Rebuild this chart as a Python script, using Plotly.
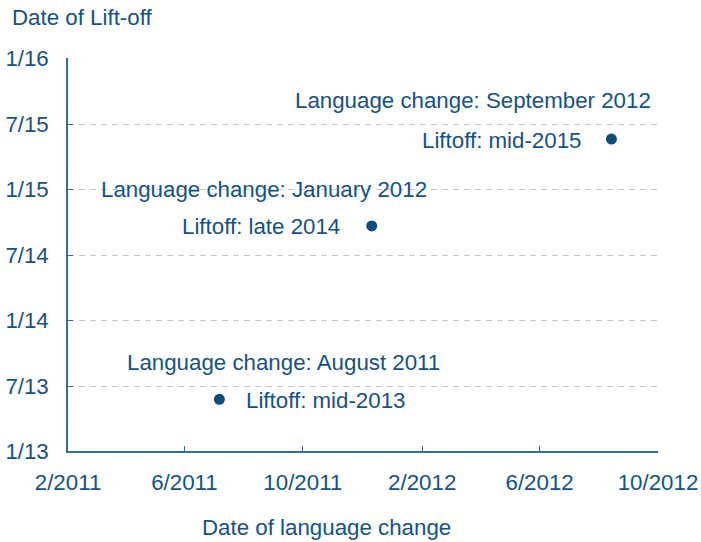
import plotly.graph_objects as go

# Data
lang_change_labels = ["August 2011", "January 2012", "September 2012"]
liftoff_labels = ["mid-2013", "late 2014", "mid-2015"]
lang_change_dates = ["2011-07-07", "2011-12-11", "2012-08-14"]
liftoff_dates = ["2013-05-25", "2014-09-20", "2015-05-20"]

x_tick_vals = ["2011-02-01", "2011-06-01", "2011-10-01", "2012-02-01", "2012-06-01", "2012-10-01"]
x_tick_text = ["2/2011", "6/2011", "10/2011", "2/2012", "6/2012", "10/2012"]
y_tick_vals = ["2013-01-01", "2013-07-01", "2014-01-01", "2014-07-01", "2015-01-01", "2015-07-01", "2016-01-01"]
y_tick_text = ["1/13", "7/13", "1/14", "7/14", "1/15", "7/15", "1/16"]

TEXT = "#17527e"
DOT = "#0d4d78"
AXIS = "#3a6b90"
GRID = "#c8c8be"
FONT = "Liberation Sans, Arial, sans-serif"
FS = 22.3

fig = go.Figure()
fig.add_trace(go.Scatter(
    x=lang_change_dates, y=liftoff_dates, mode="markers",
    marker=dict(size=11, color=DOT), showlegend=False, hoverinfo="skip"))

# label placements (offsets in px)
liftoff_anchor = ["left", "right", "right"]
liftoff_shift = [25, -30, -28]
lang_shift_x = [64, -108, -138]
lang_shift_y = [37, 36, 39]
for i in range(3):
    fig.add_annotation(x=lang_change_dates[i], y=liftoff_dates[i], xref="x", yref="y",
                       text="Liftoff: " + liftoff_labels[i], showarrow=False,
                       xanchor=liftoff_anchor[i], yanchor="middle",
                       xshift=liftoff_shift[i], yshift=-1,
                       font=dict(family=FONT, size=FS, color=TEXT))
    fig.add_annotation(x=lang_change_dates[i], y=liftoff_dates[i], xref="x", yref="y",
                       text="Language change: " + lang_change_labels[i], showarrow=False,
                       xanchor="center", yanchor="middle",
                       xshift=lang_shift_x[i], yshift=lang_shift_y[i],
                       font=dict(family=FONT, size=FS, color=TEXT))

W, H = 701, 542
L, R, T, B = 68, 43, 58, 91
pw, ph = W - L - R, H - T - B


def px_x(x):
    return (x - L) / pw


def px_y(y):
    return 1 - (y - T) / ph


fig.add_annotation(x=px_x(10), y=px_y(18), xref="paper", yref="paper", text="Date of Lift-off",
                   showarrow=False, xanchor="left", yanchor="middle",
                   font=dict(family=FONT, size=FS, color=TEXT))
fig.add_annotation(x=px_x(326), y=px_y(527), xref="paper", yref="paper", text="Date of language change",
                   showarrow=False, xanchor="center", yanchor="middle",
                   font=dict(family=FONT, size=FS, color=TEXT))

fig.update_layout(
    width=W, height=H, margin=dict(l=L, r=R, t=T, b=B),
    paper_bgcolor="white", plot_bgcolor="white",
    font=dict(family=FONT, size=FS, color=TEXT),
    xaxis=dict(type="date", range=["2011-02-01", "2012-10-01"],
               tickvals=x_tick_vals, ticktext=x_tick_text,
               showgrid=False, zeroline=False, automargin=False,
               showline=True, linecolor=AXIS, linewidth=1.5,
               ticks="inside", ticklen=5, tickcolor=AXIS, tickwidth=1.2,
               ticklabelstandoff=10,
               tickfont=dict(family=FONT, size=FS, color=TEXT)),
    yaxis=dict(type="date", range=["2013-01-01", "2016-01-01"],
               tickvals=y_tick_vals, ticktext=y_tick_text,
               showgrid=True, gridcolor=GRID, gridwidth=1, griddash="6px,5px",
               zeroline=False, automargin=False,
               showline=True, linecolor=AXIS, linewidth=1.5,
               ticks="inside", ticklen=5, tickcolor=AXIS, tickwidth=1.2,
               ticklabelstandoff=13,
               tickfont=dict(family=FONT, size=FS, color=TEXT)),
)

fig.write_html("out.html", config={"displayModeBar": False},
               post_script="document.body.style.margin='0';")
